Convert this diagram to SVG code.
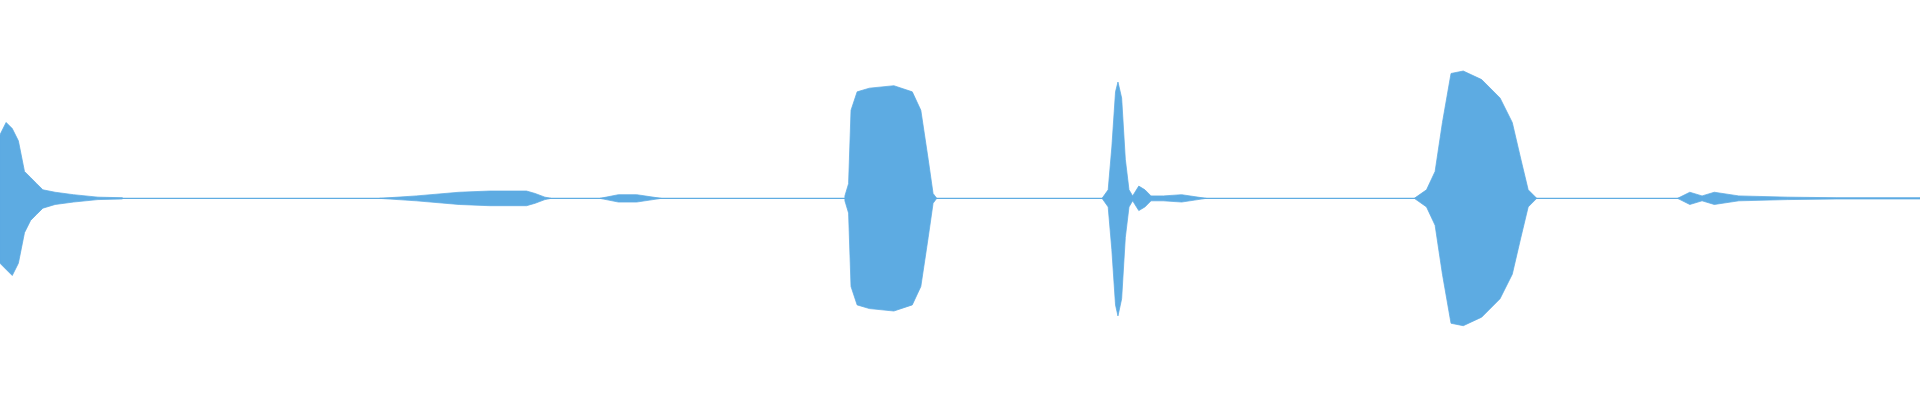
<svg xmlns="http://www.w3.org/2000/svg" width="1920" height="400" viewBox="0 0 1920 400">
<style>.w{fill:#5dabe2;stroke:#5dabe2;stroke-width:0.6}</style>
<rect width="1920" height="400" fill="#fff"/>
<g transform="scale(1.2245)">
<rect x="0" y="161.5" width="1568" height="1" fill="#5dabe2"/>
<path class="w" d="M0,110 L5,100 L10,105 L15,115 L20,140 L25,145 L30,150 L35,155 L45,157 L60,159 L80,161 L100,161.5 L100,162.5 L80,163 L60,165 L45,167 L35,170 L30,175 L25,180 L20,190 L15,215 L10,225 L5,220 L0,215 Z"/>
<path class="w" d="M310,162 L340,160 L375,157 L400,156 L430,156 L437,158 L445,161 L450,162 L445,163 L437,166 L430,168 L400,168 L375,167 L340,164 Z"/>
<path class="w" d="M490,162 L505,159 L520,159 L540,162 L520,165 L505,165 Z"/>
<path class="w" d="M690,160 L693,150 L695,90 L700,75 L710,72 L730,70 L745,75 L752,90 L758,130 L762,158 L765,162 L762,166 L758,194 L752,234 L745,249 L730,254 L710,252 L700,249 L695,234 L693,174 L690,164 Z"/>
<path class="w" d="M900,162 L905,155 L908,120 L911,75 L913,67 L916,80 L919,130 L922,155 L925,160 L930,152 L935,155 L940,160 L950,160 L965,159 L985,162 L965,165 L950,164 L940,164 L935,169 L930,172 L925,164 L922,169 L919,194 L916,244 L913,258 L911,249 L908,204 L905,169 Z"/>
<path class="w" d="M1155,162 L1165,155 L1172,140 L1178,100 L1185,60 L1195,58 L1210,65 L1225,80 L1235,100 L1242,130 L1248,155 L1255,162 L1248,169 L1242,194 L1235,224 L1225,244 L1210,259 L1195,266 L1185,264 L1178,224 L1172,184 L1165,169 Z"/>
<path class="w" d="M1370,162 L1380,157 L1390,160 L1400,157 L1420,160 L1460,161 L1500,161.5 L1568,161.5 L1568,162.5 L1500,162.5 L1460,163 L1420,164 L1400,167 L1390,164 L1380,167 Z"/>
</g>
</svg>
